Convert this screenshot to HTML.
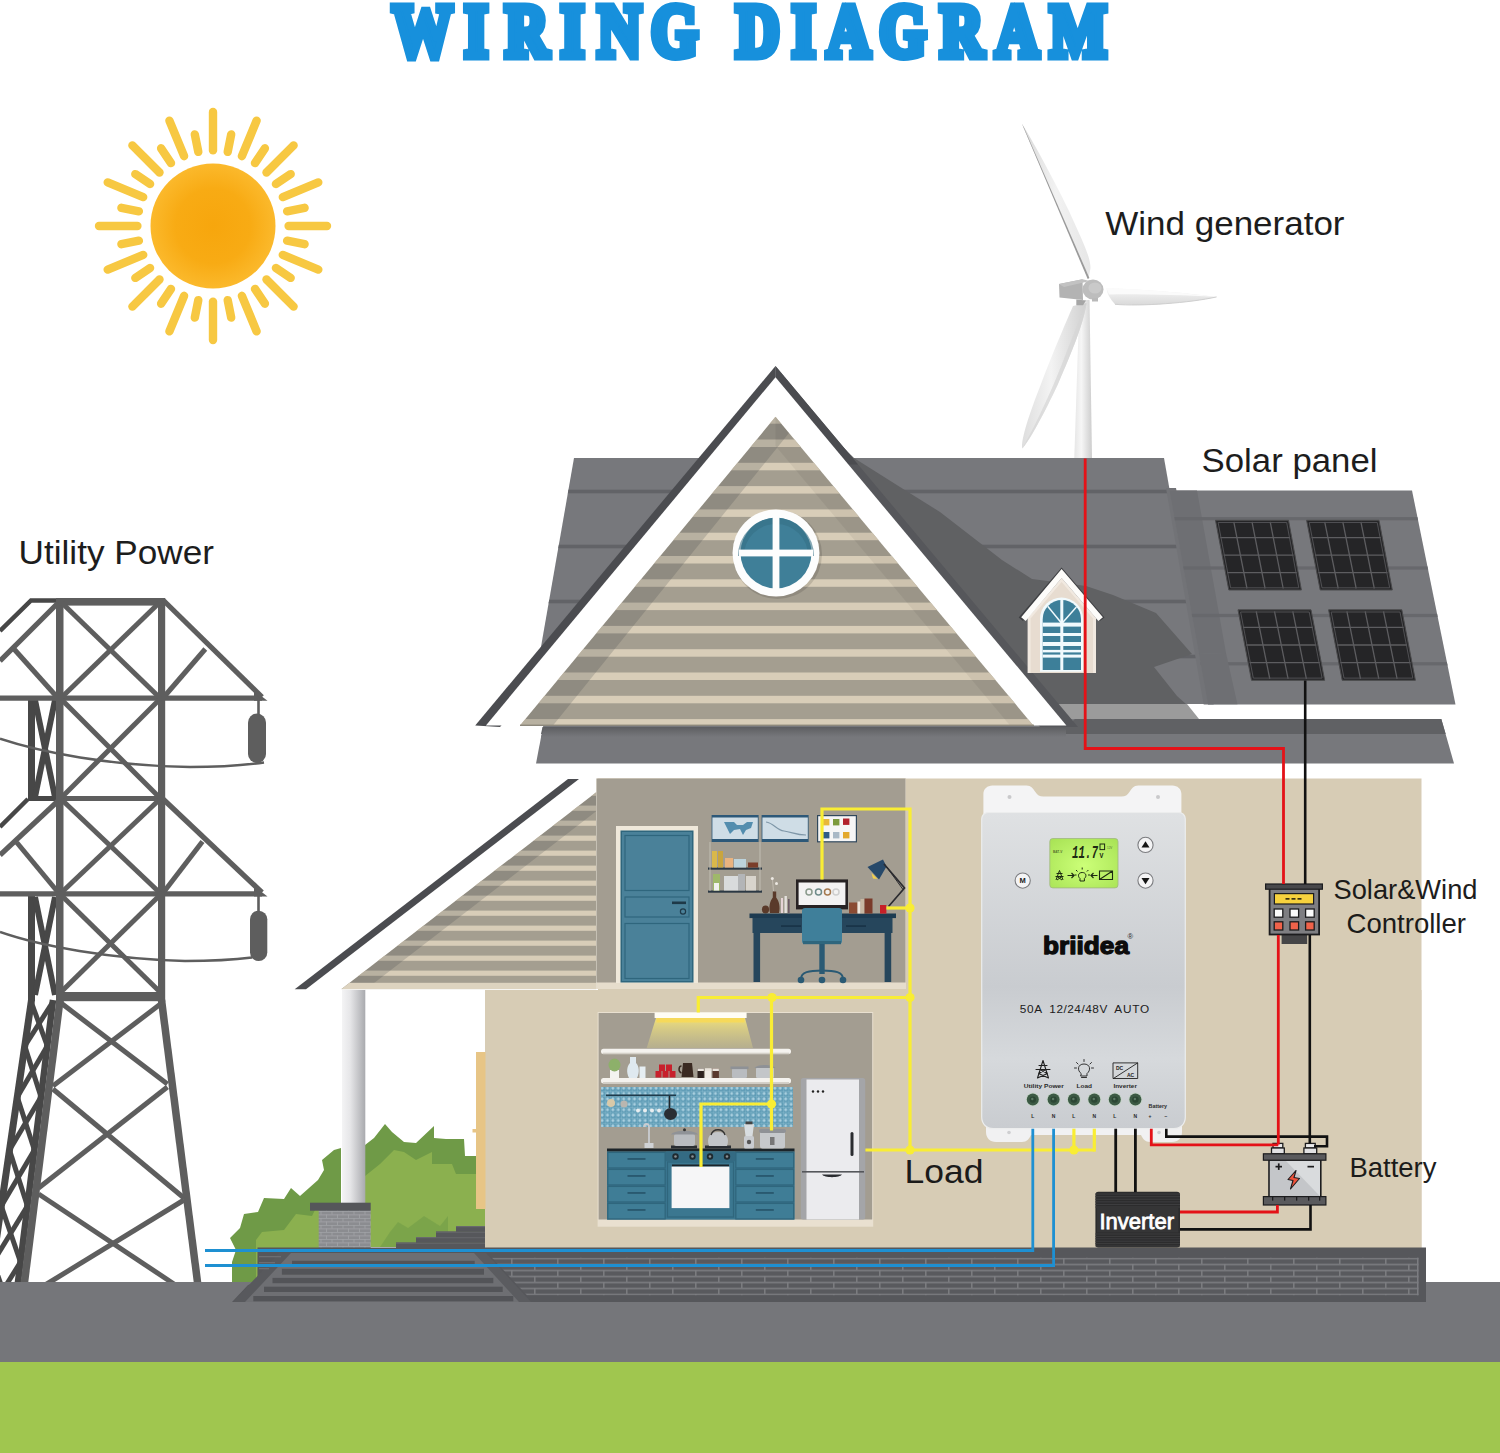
<!DOCTYPE html>
<html lang="en"><head><meta charset="utf-8"><title>Wiring Diagram</title>
<style>
html,body{margin:0;padding:0;background:#fff;}
body{width:1500px;height:1453px;overflow:hidden;}
svg{display:block;font-family:"Liberation Sans",sans-serif;}
</style></head><body>
<svg width="1500" height="1453" viewBox="0 0 1500 1453">
<defs>
<radialGradient id="sunG" cx="50%" cy="50%" r="50%"><stop offset="0" stop-color="#f7a60d"/><stop offset="0.6" stop-color="#f8ab14"/><stop offset="1" stop-color="#fbb92c"/></radialGradient>

</defs>
<rect width="1500" height="1453" fill="#ffffff"/>
<!-- p_sky -->
<g stroke="#f7c842" stroke-width="8.400" stroke-linecap="round">
<line x1="288.6" y1="226" x2="327" y2="226"/>
<line x1="287.1" y1="240.7" x2="304.6" y2="244.2"/>
<line x1="282.8" y1="254.9" x2="318.3" y2="269.6"/>
<line x1="275.9" y1="268" x2="290.7" y2="277.9"/>
<line x1="266.5" y1="279.5" x2="293.6" y2="306.6"/>
<line x1="255" y1="288.9" x2="264.9" y2="303.7"/>
<line x1="241.9" y1="295.8" x2="256.6" y2="331.3"/>
<line x1="227.7" y1="300.1" x2="231.2" y2="317.6"/>
<line x1="213" y1="301.6" x2="213" y2="340"/>
<line x1="198.3" y1="300.1" x2="194.8" y2="317.6"/>
<line x1="184.1" y1="295.8" x2="169.4" y2="331.3"/>
<line x1="171" y1="288.9" x2="161.1" y2="303.7"/>
<line x1="159.5" y1="279.5" x2="132.4" y2="306.6"/>
<line x1="150.1" y1="268" x2="135.3" y2="277.9"/>
<line x1="143.2" y1="254.9" x2="107.7" y2="269.6"/>
<line x1="138.9" y1="240.7" x2="121.4" y2="244.2"/>
<line x1="137.4" y1="226" x2="99" y2="226"/>
<line x1="138.9" y1="211.3" x2="121.4" y2="207.8"/>
<line x1="143.2" y1="197.1" x2="107.7" y2="182.4"/>
<line x1="150.1" y1="184" x2="135.3" y2="174.1"/>
<line x1="159.5" y1="172.5" x2="132.4" y2="145.4"/>
<line x1="171" y1="163.1" x2="161.1" y2="148.3"/>
<line x1="184.1" y1="156.2" x2="169.4" y2="120.7"/>
<line x1="198.3" y1="151.9" x2="194.8" y2="134.4"/>
<line x1="213" y1="150.4" x2="213" y2="112"/>
<line x1="227.7" y1="151.9" x2="231.2" y2="134.4"/>
<line x1="241.9" y1="156.2" x2="256.6" y2="120.7"/>
<line x1="255" y1="163.1" x2="264.9" y2="148.3"/>
<line x1="266.5" y1="172.5" x2="293.6" y2="145.4"/>
<line x1="275.9" y1="184" x2="290.7" y2="174.1"/>
<line x1="282.8" y1="197.1" x2="318.3" y2="182.4"/>
<line x1="287.1" y1="211.3" x2="304.6" y2="207.8"/>
</g>
<circle cx="213" cy="226" r="62.5" fill="url(#sunG)" />
<text transform="scale(0.815,1)" x="481.6 570.1 620 688.2 733.5 799 865 903.5 971.7 1014.8 1079 1153.8 1221.4 1288.4" y="56.100" font-family="'Liberation Serif',serif" font-weight="bold" font-size="73.5" fill="#1790dc" stroke="#1790dc" stroke-width="8" stroke-linejoin="miter" stroke-miterlimit="3" vector-effect="non-scaling-stroke" xml:space="preserve">WIRING DIAGRAM</text>
<!-- p_turbine -->
<linearGradient id="twG" x1="0" y1="0" x2="1" y2="0"><stop offset="0" stop-color="#e6e6e6"/><stop offset="0.4" stop-color="#f6f6f6"/><stop offset="1" stop-color="#cdcdcd"/></linearGradient>
<linearGradient id="b3G" x1="0" y1="0" x2="1" y2="0"><stop offset="0" stop-color="#dedede"/><stop offset="0.45" stop-color="#f3f3f3"/><stop offset="1" stop-color="#d0d0d0"/></linearGradient>
<linearGradient id="b1G" x1="0" y1="0" x2="1" y2="0"><stop offset="0" stop-color="#d9d9d9"/><stop offset="0.5" stop-color="#f2f2f2"/><stop offset="1" stop-color="#e6e6e6"/></linearGradient>
<linearGradient id="b2G" x1="0" y1="0" x2="0" y2="1"><stop offset="0" stop-color="#f7f7f7"/><stop offset="1" stop-color="#d9d9d9"/></linearGradient>
<polygon points="1079.5,300 1089.5,300 1092,458 1074.3,458" fill="url(#twG)" />
<path d="M1086.500 303 C1084 322 1072 352 1058 384 C1045 412 1030 440 1022.300 448.500 C1020.500 440 1030 412 1041 384 C1054 350 1066 322 1073 306 Z" fill="url(#b3G)"/>
<path d="M1086.500 303 C1084 322 1072 352 1058 384 C1045 412 1030 440 1022.300 448.500 C1036 424 1050 394 1062 364 C1072 338 1080 318 1086.500 303Z" fill="#d6d6d6" opacity="0.7"/>
<path d="M1021.800 123.600 C1032 140 1050 172 1069 211 C1081 238 1090.500 256 1090.500 268 L1088.500 279 Z" fill="url(#b1G)"/>
<path d="M1021.800 123.600 L1087.700 279 L1089.400 278 L1024.200 128 Z" fill="#9a9a9a"/>
<path d="M1106.400 288.200 C1130 288.500 1175 291.500 1216.600 296.900 C1190 303 1140 306.500 1115 304.300 C1110 299 1107 293.500 1106.400 288.200 Z" fill="url(#b2G)"/>
<path d="M1106.400 288.200 C1130 288.500 1175 291.500 1216.600 296.900 C1180 295 1140 294 1109 294.500 Z" fill="#fbfbfb"/>
<path d="M1115 304.300 C1140 306.500 1190 303 1216.600 296.900" fill="none" stroke="#cfcfcf" stroke-width="1"/>
<polygon points="1059,284 1082.5,279.3 1083,300 1059.5,297.5" fill="#b3b3b3" />
<polygon points="1059,284 1082.5,279.3 1090,281 1064,287" fill="#c2c2c2" />
<ellipse cx="1093" cy="289.500" rx="10.500" ry="10" fill="#bdbdbd"/>
<ellipse cx="1095" cy="288" rx="6.500" ry="5.500" fill="#c9c9c9"/>
<polygon points="1076.3,299.5 1086,300.5 1083,305.3 1076.3,305.3" fill="#a6a6a6" />
<rect x="1092" y="298" width="6" height="3.5" fill="#b9b9b9" />
<!-- p_pylon -->
<g stroke="#474747" fill="none" stroke-linecap="butt">
<polyline points="57,600.5 31,600.5 0,631" fill="none" stroke="#474747" stroke-width="4.5" />
<rect x="28" y="698" width="7" height="101" fill="#474747" stroke="none"/>
<line x1="35" y1="700" x2="55" y2="797" stroke="#474747" stroke-width="6" />
<line x1="55" y1="700" x2="35" y2="797" stroke="#474747" stroke-width="6" />
<line x1="28" y1="799" x2="0" y2="827" stroke="#474747" stroke-width="4.5" />
<line x1="28" y1="798.5" x2="57" y2="798.5" stroke="#474747" stroke-width="5" />
<rect x="28" y="893" width="7" height="108" fill="#474747" stroke="none"/>
<line x1="35" y1="897" x2="55" y2="995" stroke="#474747" stroke-width="6" />
<line x1="55" y1="897" x2="35" y2="995" stroke="#474747" stroke-width="6" />
<line x1="31.5" y1="1000" x2="-11" y2="1290" stroke="#474747" stroke-width="7" />
<line x1="53" y1="1000" x2="17" y2="1290" stroke="#474747" stroke-width="6.5" />
<line x1="31.2" y1="1002" x2="47.3" y2="1046" stroke="#474747" stroke-width="5" />
<line x1="52.8" y1="1002" x2="24.8" y2="1046" stroke="#474747" stroke-width="5" />
<line x1="24.8" y1="1046" x2="41" y2="1097" stroke="#474747" stroke-width="5" />
<line x1="47.3" y1="1046" x2="17.3" y2="1097" stroke="#474747" stroke-width="5" />
<line x1="17.3" y1="1097" x2="34.4" y2="1150" stroke="#474747" stroke-width="5" />
<line x1="41" y1="1097" x2="9.5" y2="1150" stroke="#474747" stroke-width="5" />
<line x1="9.5" y1="1150" x2="27.4" y2="1206" stroke="#474747" stroke-width="5" />
<line x1="34.4" y1="1150" x2="1.3" y2="1206" stroke="#474747" stroke-width="5" />
<line x1="1.3" y1="1206" x2="20.5" y2="1262" stroke="#474747" stroke-width="5" />
<line x1="27.4" y1="1206" x2="-6.9" y2="1262" stroke="#474747" stroke-width="5" />
<line x1="-6.9" y1="1262" x2="13.3" y2="1320" stroke="#474747" stroke-width="5" />
<line x1="20.5" y1="1262" x2="-15.4" y2="1320" stroke="#474747" stroke-width="5" />
</g>
<g stroke="#5e5e5e" fill="none">
<rect x="56" y="598" width="7.5" height="404" fill="#5e5e5e" stroke="none"/>
<rect x="158" y="598" width="7.2" height="404" fill="#5e5e5e" stroke="none"/>
<rect x="56" y="598" width="109" height="7.6" fill="#5e5e5e" stroke="none"/>
<line x1="0" y1="698.2" x2="262" y2="698.2" stroke="#5e5e5e" stroke-width="5.2" />
<line x1="60" y1="798.5" x2="160" y2="798.5" stroke="#5e5e5e" stroke-width="5.2" />
<line x1="0" y1="893.9" x2="262" y2="893.9" stroke="#5e5e5e" stroke-width="5.2" />
<rect x="60" y="992" width="100" height="9.2" fill="#5e5e5e" stroke="none"/>
<polygon points="254,690.5 267.5,700.8 254,700.8" fill="#5e5e5e" stroke="none"/>
<polygon points="254,886 267.5,896.5 254,896.5" fill="#5e5e5e" stroke="none"/>
<line x1="163" y1="600" x2="262" y2="697" stroke="#5e5e5e" stroke-width="5.2" />
<line x1="163" y1="799" x2="262" y2="892.5" stroke="#5e5e5e" stroke-width="5.2" />
<line x1="163" y1="698" x2="205.3" y2="649" stroke="#5e5e5e" stroke-width="5" />
<line x1="163" y1="893" x2="202.5" y2="841.6" stroke="#5e5e5e" stroke-width="5" />
<line x1="58" y1="603" x2="0" y2="661" stroke="#5e5e5e" stroke-width="5.2" />
<line x1="14" y1="649" x2="57" y2="697" stroke="#5e5e5e" stroke-width="5" />
<line x1="58" y1="801" x2="0" y2="855" stroke="#5e5e5e" stroke-width="5.2" />
<line x1="16.8" y1="842.5" x2="57" y2="891" stroke="#5e5e5e" stroke-width="5" />
<line x1="62" y1="603" x2="159" y2="697" stroke="#5e5e5e" stroke-width="5" />
<line x1="159" y1="603" x2="62" y2="697" stroke="#5e5e5e" stroke-width="5" />
<line x1="62" y1="700" x2="159" y2="797" stroke="#5e5e5e" stroke-width="5" />
<line x1="159" y1="700" x2="62" y2="797" stroke="#5e5e5e" stroke-width="5" />
<line x1="62" y1="800" x2="159" y2="892" stroke="#5e5e5e" stroke-width="5" />
<line x1="159" y1="800" x2="62" y2="892" stroke="#5e5e5e" stroke-width="5" />
<line x1="62" y1="896" x2="159" y2="991" stroke="#5e5e5e" stroke-width="5" />
<line x1="159" y1="896" x2="62" y2="991" stroke="#5e5e5e" stroke-width="5" />
<line x1="60" y1="1000" x2="24" y2="1286" stroke="#5e5e5e" stroke-width="7.5" />
<line x1="161.5" y1="1000" x2="198" y2="1286" stroke="#5e5e5e" stroke-width="7.5" />
<line x1="61" y1="1003" x2="167.4" y2="1084" stroke="#5e5e5e" stroke-width="5" />
<line x1="160.5" y1="1004" x2="52.9" y2="1086" stroke="#5e5e5e" stroke-width="5" />
<line x1="52.9" y1="1089" x2="184" y2="1198" stroke="#5e5e5e" stroke-width="5" />
<line x1="167.4" y1="1087" x2="38.6" y2="1188" stroke="#5e5e5e" stroke-width="5" />
<line x1="38.6" y1="1194" x2="177" y2="1286" stroke="#5e5e5e" stroke-width="5" />
<line x1="184" y1="1200" x2="43.5" y2="1286" stroke="#5e5e5e" stroke-width="5" />
</g>
<line x1="258.5" y1="698" x2="258.5" y2="715" stroke="#5e5e5e" stroke-width="2.6" />
<line x1="258.5" y1="894" x2="258.5" y2="911" stroke="#5e5e5e" stroke-width="2.6" />
<rect x="248" y="713.5" width="18" height="49.5" fill="#5e5e5e" rx="9"/>
<rect x="250" y="910.7" width="17.3" height="50.3" fill="#5e5e5e" rx="8.6"/>
<path d="M0 738.7 C40 752 110 766 190 767 C220 767 245 765 264 762.5" fill="none" stroke="#5e5e5e" stroke-width="2.4"/>
<path d="M0 932 C40 946 110 959 185 961 C215 961 240 959 252 957.5" fill="none" stroke="#5e5e5e" stroke-width="2.4"/>
<!-- p_garden -->
<rect x="0" y="1282" width="1500" height="81" fill="#75767a" />
<rect x="0" y="1362" width="1500" height="91" fill="#a0c64f" />
<polygon points="232,1282 232,1262 236,1250 230,1238 240,1228 244,1214 258,1212 264,1198 284,1199 291,1188 300,1196 318,1180 324,1170 322,1160 334,1150 341,1148 341,1204 370,1204 370,1282" fill="#6f9a47" />
<polygon points="256,1282 256,1240 262,1232 284,1230 296,1214 312,1216 318,1204 370,1204 370,1282" fill="#8bb04f" />
<polygon points="365,1145 374,1138 385,1124 392,1132 404,1142 416,1143 434,1126 434,1138 446,1139 464,1139 465,1156 485,1156 485,1247 365,1247" fill="#6f9a47" />
<polygon points="365,1176 380,1164 394,1150 404,1152 416,1160 432,1152 432,1164 452,1164 456,1174 485,1174 485,1247 365,1247" fill="#8bb04f" />
<polygon points="380,1247 390,1232 398,1222 408,1228 424,1216 440,1226 448,1216 448,1247" fill="#6f9a47" opacity="0.55"/>
<!-- p_house -->
<polygon points="574,458 1164,458 1207.5,704 531,704" fill="#77787c" />
<clipPath id="mr"><polygon points="574,458 1164,458 1207.5,704 531,704"/></clipPath><g clip-path="url(#mr)">
<rect x="530" y="489.7" width="690" height="3.6" fill="#626367" />
<rect x="530" y="544.7" width="690" height="3.6" fill="#626367" />
<rect x="530" y="599.7" width="690" height="3.6" fill="#626367" />
<rect x="530" y="654.7" width="690" height="3.6" fill="#626367" />
</g>
<polygon points="854,458 900,487 940,512 1002,560 1032,579 1086,586 1113,595 1156,613 1192,654 1154,667 1177,696 1186,704 1040,704 775,380" fill="#606163" />
<polygon points="1166,488 1176,488 1213.7,704.4 1203.7,704.4" fill="#727377" />
<polygon points="1169.5,490.4 1412,490.4 1455.5,704.6 1208,704.6" fill="#77787c" />
<polygon points="1169.5,490.4 1197,490.4 1226,653 1192,654 1199,654" fill="#6e6f73" />
<clipPath id="rr"><polygon points="1169.5,490.4 1412,490.4 1455.5,704.6 1208,704.6"/></clipPath><g clip-path="url(#rr)">
<rect x="1160" y="517.1" width="300" height="3.2" fill="#67686c" />
<rect x="1160" y="566.4" width="300" height="3.2" fill="#67686c" />
<rect x="1160" y="613.9" width="300" height="3.2" fill="#67686c" />
<rect x="1160" y="662.2" width="300" height="3.2" fill="#67686c" />
<polygon points="1192,654 1226,653 1237.5,704.6 1208,704.6 1200,690" fill="#6e6f73" />
</g>
<polygon points="1215.5,520.3 1288.5,520.3 1301.4,590 1228.8,590" fill="#252527" stroke="#4a4a4c" stroke-width="1"/>
<path d="M1233.8 521.8L1247 588.5M1220.3 537.7L1290.2 537.7M1252 521.8L1265.1 588.5M1223.7 555.1L1293.5 555.1M1270.2 521.8L1283.2 588.5M1227 572.6L1296.7 572.6" stroke="#5d5d60" stroke-width="1.3" fill="none"/>
<polygon points="1218.1,522.5 1286.7,522.5 1298.8,587.8 1230.6,587.8" fill="none" stroke="#555558" stroke-width="0.9"/>
<polygon points="1306.6,520.3 1379,520.3 1392.3,590 1320.2,590" fill="#252527" stroke="#4a4a4c" stroke-width="1"/>
<path d="M1324.7 521.8L1338.2 588.5M1311.5 537.7L1380.8 537.7M1342.8 521.8L1356.2 588.5M1314.9 555.1L1384.2 555.1M1360.9 521.8L1374.3 588.5M1318.3 572.6L1387.5 572.6" stroke="#5d5d60" stroke-width="1.3" fill="none"/>
<polygon points="1309.2,522.5 1377.2,522.5 1389.7,587.8 1322,587.8" fill="none" stroke="#555558" stroke-width="0.9"/>
<polygon points="1238,609.8 1311,609.8 1324.7,680.3 1251.5,680.3" fill="#252527" stroke="#4a4a4c" stroke-width="1"/>
<path d="M1256.2 611.3L1269.8 678.8M1242.9 627.4L1312.9 627.4M1274.5 611.3L1288.1 678.8M1246.2 645L1316.3 645M1292.8 611.3L1306.4 678.8M1249.6 662.7L1319.8 662.7" stroke="#5d5d60" stroke-width="1.3" fill="none"/>
<polygon points="1240.6,612 1309.2,612 1322.1,678.1 1253.3,678.1" fill="none" stroke="#555558" stroke-width="0.9"/>
<polygon points="1328.6,609.8 1401.8,609.8 1415.4,680.3 1342.2,680.3" fill="#252527" stroke="#4a4a4c" stroke-width="1"/>
<path d="M1346.9 611.3L1360.5 678.8M1333.5 627.4L1403.7 627.4M1365.2 611.3L1378.8 678.8M1336.9 645L1407.1 645M1383.5 611.3L1397.1 678.8M1340.3 662.7L1410.5 662.7" stroke="#5d5d60" stroke-width="1.3" fill="none"/>
<polygon points="1331.2,612 1400,612 1412.8,678.1 1344,678.1" fill="none" stroke="#555558" stroke-width="0.9"/>
<polygon points="1045,704 1187,704 1199,719 1058,719" fill="#9b9b9b" />
<polygon points="544.5,719 1441.3,719 1454,763.6 536,763.6" fill="#77787c" />
<polygon points="542.5,727 1066,727 1075,719 1441.3,719 1445.7,734 541,734" fill="#606164" />
<linearGradient id="eaveG" x1="0" y1="0" x2="0" y2="1"><stop offset="0" stop-color="#5d5e61"/><stop offset="1" stop-color="#77787c"/></linearGradient>
<polygon points="544.5,727 1066,727 1066,737 541,737" fill="url(#eaveG)" />
<polygon points="775.5,366 1078,727 1040,727 775.5,400" fill="#56575b" />
<polygon points="775.5,366 775.5,400 500,727 475.2,725.4" fill="#4b4c50" />
<polygon points="775.5,366 858,464.5 840,464.5 775.5,388" fill="#4b4c50" />
<polygon points="775.5,377.3 1066.4,725.4 485.9,725.4" fill="#ffffff" />
<clipPath id="gb"><polygon points="775.5,416.8 1033.3,725.4 520,725.4"/></clipPath>
<g clip-path="url(#gb)">
<rect x="520" y="416.8" width="513.3" height="308.6" fill="#a49e90" />
<rect x="520" y="392.9" width="513.3" height="7.5" fill="#d8cdb8" />
<rect x="520" y="416.2" width="513.3" height="7.5" fill="#d8cdb8" />
<rect x="520" y="439.5" width="513.3" height="7.5" fill="#d8cdb8" />
<rect x="520" y="462.8" width="513.3" height="7.5" fill="#d8cdb8" />
<rect x="520" y="486.1" width="513.3" height="7.5" fill="#d8cdb8" />
<rect x="520" y="509.4" width="513.3" height="7.5" fill="#d8cdb8" />
<rect x="520" y="532.7" width="513.3" height="7.5" fill="#d8cdb8" />
<rect x="520" y="556" width="513.3" height="7.5" fill="#d8cdb8" />
<rect x="520" y="579.3" width="513.3" height="7.5" fill="#d8cdb8" />
<rect x="520" y="602.6" width="513.3" height="7.5" fill="#d8cdb8" />
<rect x="520" y="625.9" width="513.3" height="7.5" fill="#d8cdb8" />
<rect x="520" y="649.2" width="513.3" height="7.5" fill="#d8cdb8" />
<rect x="520" y="672.5" width="513.3" height="7.5" fill="#d8cdb8" />
<rect x="520" y="695.8" width="513.3" height="7.5" fill="#d8cdb8" />
<rect x="520" y="719.1" width="513.3" height="7.5" fill="#d8cdb8" />
<polygon points="775.5,416.8 789,433 553,725.4 520,725.4" fill="#3a4048" opacity="0.2"/>
<polygon points="775.5,416.8 775.5,446 1010,725.4 1033.3,725.4" fill="#000" opacity="0.05"/>
</g>
<rect x="520" y="724.6" width="514" height="1.4" fill="#8d887c" />
<circle cx="777.5" cy="554.5" r="44.5" fill="#000" opacity="0.12"/>
<circle cx="776" cy="553" r="43.5" fill="#fdfdfd" />
<circle cx="776" cy="553" r="35.5" fill="#3f7f98" />
<path d="M741 553a35 35 0 0 1 70 0" fill="none" stroke="#366f86" stroke-width="6" opacity="0.6" transform="translate(0,3)"/>
<rect x="772.6" y="516" width="6.8" height="74" fill="#fdfdfd" />
<rect x="739" y="549.6" width="74" height="6.8" fill="#fdfdfd" />
<polygon points="1061.6,567.5 1104.5,617.5 1100,621 1061.6,576 1023,621 1018.7,617.5" fill="#3f4043" />
<polygon points="1061.6,578 1096,618 1096,673 1027.6,673 1027.6,618" fill="#f1e9e0" />
<polygon points="1061.6,582 1093,618.5 1093,673 1030.6,673 1030.6,618.5" fill="#e7dcd0" />
<polygon points="1061.6,569 1102.9,617.2 1098.4,621 1061.6,578 1025.7,621 1021.2,617.2" fill="#fdfcfa" />
<path d="M1040 671.800V619a21.500 21.500 0 0 1 43 0V671.800Z" fill="#f1fafd"/>
<clipPath id="dw"><path d="M1042.700 670V619.200a19.150 19.150 0 0 1 38.300 0V670Z"/></clipPath>
<g clip-path="url(#dw)">
<rect x="1040" y="598" width="44" height="74" fill="#3d7f99" />
<rect x="1060.3" y="598" width="3" height="74" fill="#f1fafd" />
<rect x="1040" y="622.6" width="44" height="4" fill="#f1fafd" />
<rect x="1040" y="633" width="44" height="3" fill="#f1fafd" />
<rect x="1040" y="642" width="44" height="4" fill="#f1fafd" />
<rect x="1040" y="649.9" width="44" height="2.5" fill="#f1fafd" />
<rect x="1040" y="654.6" width="44" height="3" fill="#f1fafd" />
<line x1="1061.8" y1="623.5" x2="1047.5" y2="606" stroke="#f1fafd" stroke-width="1.5" />
<line x1="1061.8" y1="623.5" x2="1077.3" y2="606" stroke="#f1fafd" stroke-width="1.5" />
</g>
<rect x="485" y="990" width="936.5" height="258" fill="#d7ccb5" />
<rect x="598" y="778.5" width="823.5" height="469.5" fill="#d7ccb5" />
<polygon points="568,779 579,779 306,989.3 294.7,989.3" fill="#4b4c50" />
<clipPath id="ps"><polygon points="596.5,792 596.5,989.3 341.2,989.3"/></clipPath>
<g clip-path="url(#ps)">
<rect x="341.2" y="792" width="255.3" height="197.3" fill="#a49e90" />
<rect x="341.2" y="775.6" width="255.3" height="5.2" fill="#d8cdb8" />
<rect x="341.2" y="790.6" width="255.3" height="5.2" fill="#d8cdb8" />
<rect x="341.2" y="805.6" width="255.3" height="5.2" fill="#d8cdb8" />
<rect x="341.2" y="820.6" width="255.3" height="5.2" fill="#d8cdb8" />
<rect x="341.2" y="835.6" width="255.3" height="5.2" fill="#d8cdb8" />
<rect x="341.2" y="850.6" width="255.3" height="5.2" fill="#d8cdb8" />
<rect x="341.2" y="865.6" width="255.3" height="5.2" fill="#d8cdb8" />
<rect x="341.2" y="880.6" width="255.3" height="5.2" fill="#d8cdb8" />
<rect x="341.2" y="895.6" width="255.3" height="5.2" fill="#d8cdb8" />
<rect x="341.2" y="910.6" width="255.3" height="5.2" fill="#d8cdb8" />
<rect x="341.2" y="925.6" width="255.3" height="5.2" fill="#d8cdb8" />
<rect x="341.2" y="940.6" width="255.3" height="5.2" fill="#d8cdb8" />
<rect x="341.2" y="955.6" width="255.3" height="5.2" fill="#d8cdb8" />
<rect x="341.2" y="970.6" width="255.3" height="5.2" fill="#d8cdb8" />
<polygon points="596.5,792 596.5,811 366,989.3 341.2,989.3" fill="#3a4048" opacity="0.2"/>
<rect x="341" y="982.8" width="256" height="6.5" fill="#ddd3bf" />
</g>
<linearGradient id="colG" x1="0" y1="0" x2="1" y2="0"><stop offset="0" stop-color="#f4f4f5"/><stop offset="0.35" stop-color="#e6e6e8"/><stop offset="1" stop-color="#a9aaae"/></linearGradient>
<rect x="342" y="990" width="23.3" height="213" fill="url(#colG)" />
<!-- p_rooms -->
<rect x="596.5" y="778.5" width="309.5" height="210.5" fill="#e6ddcc" />
<rect x="596.5" y="778.5" width="309" height="204" fill="#a39d91" />
<rect x="616" y="826" width="82" height="157" fill="#efe8da" />
<rect x="620.5" y="830.5" width="73" height="152" fill="#2f667d" />
<rect x="622" y="832" width="70" height="149" fill="#4a8199" />
<rect x="625" y="835.5" width="64" height="55" fill="none" stroke="#2f667d" stroke-width="1.2"/>
<rect x="625" y="897" width="64" height="20" fill="none" stroke="#2f667d" stroke-width="1.2"/>
<rect x="625" y="923.5" width="64" height="55" fill="none" stroke="#2f667d" stroke-width="1.2"/>
<rect x="672" y="901.5" width="14" height="2.6" fill="#1e3948" />
<circle cx="683" cy="911.5" r="2.6" fill="none" stroke="#1e3948" stroke-width="1.2"/>
<rect x="711.6" y="815" width="47" height="27" fill="#2d5878" />
<rect x="712.4" y="817.5" width="45.4" height="21.5" fill="#cfdde6" />
<rect x="761.6" y="815" width="47" height="27" fill="#2d5878" />
<rect x="762.4" y="817.5" width="45.4" height="21.5" fill="#cfdde6" />
<path d="M724 822h10l3 3h6l4-3h6l-2 6-5 2-3 5-3-6-6 1-4 4-3-6z" fill="#3d7fa3" opacity="0.85"/>
<path d="M766 822c8 1 10 8 18 9s12 4 22 4" fill="none" stroke="#7f97a8" stroke-width="1.2"/>
<rect x="817" y="815" width="40" height="27.4" fill="#30485c" />
<rect x="818.2" y="816.2" width="37.6" height="25" fill="#f6f6f6" />
<rect x="823" y="819" width="6.4" height="6.4" fill="#e8b83a" />
<rect x="833" y="819" width="6.4" height="6.4" fill="#7c9a3c" />
<rect x="843" y="818.5" width="6.4" height="6.4" fill="#b3232c" />
<rect x="823" y="832" width="6.4" height="6.4" fill="#2f5d86" />
<rect x="833" y="832" width="6.4" height="6.4" fill="#a9b9c6" />
<rect x="843" y="832" width="6.4" height="6.4" fill="#e3a92e" />
<rect x="708" y="867.5" width="54" height="2.2" fill="#2b3844" />
<rect x="708" y="890.5" width="54" height="2.2" fill="#2b3844" />
<line x1="710" y1="842" x2="710" y2="891" stroke="#c9c6bd" stroke-width="0.8" />
<line x1="760" y1="842" x2="760" y2="891" stroke="#c9c6bd" stroke-width="0.8" />
<rect x="712" y="851" width="5" height="16.5" fill="#d9b84a" />
<rect x="718" y="851" width="5" height="16.5" fill="#c9a53e" />
<rect x="725" y="858" width="8" height="9.5" fill="#e9b37f" />
<rect x="734" y="859" width="12" height="8.5" fill="#bcd3dc" />
<rect x="748" y="862.5" width="10" height="5" fill="#7a3d2a" />
<rect x="713" y="874" width="7" height="16.5" fill="#9fb86a" />
<rect x="714" y="883" width="5" height="7.5" fill="#f1f1ee" />
<rect x="724" y="876" width="14" height="14.5" fill="#d9dbdc" />
<rect x="738" y="874" width="7" height="16.5" fill="#b3b5b7" />
<rect x="746" y="876" width="10" height="14.5" fill="#d8d4cc" />
<path d="M770 913c-1.5-6 0-12 2.8-15.5v-6h3.4v6c2.8 3.500 4.3 9.500 2.8 15.500z" fill="#5a3a2a"/>
<ellipse cx="765.500" cy="909.500" rx="3.600" ry="4" fill="#5a3a2a"/>
<rect x="781" y="898" width="2" height="15" fill="#e6d3d6" />
<rect x="784.5" y="896" width="2.4" height="17" fill="#e4e0dc" />
<rect x="788" y="899" width="1.6" height="14" fill="#6d5a66" />
<line x1="773.5" y1="891" x2="772.5" y2="880" stroke="#c8c2b8" stroke-width="0.8" />
<circle cx="772.3" cy="878.5" r="1.5" fill="#ece8e2" />
<circle cx="776.5" cy="883.5" r="1.5" fill="#ece8e2" />
<rect x="749.5" y="913.5" width="146.5" height="4.6" fill="#1d3b51" />
<rect x="752.5" y="918" width="140" height="15" fill="#26465c" />
<rect x="753.5" y="933" width="6.6" height="49" fill="#26465c" />
<rect x="884.6" y="933" width="6.6" height="49" fill="#26465c" />
<rect x="781" y="925.3" width="20" height="1.5" fill="#173145" />
<rect x="846" y="925.3" width="20" height="1.5" fill="#173145" />
<rect x="849" y="902.5" width="8.5" height="11" fill="#8a4b33" />
<rect x="857.5" y="901.5" width="3" height="12" fill="#efe6dc" />
<rect x="860.5" y="899" width="4" height="14.5" fill="#c7b7a3" />
<rect x="864.5" y="898.5" width="8" height="15" fill="#7a3a2a" />
<rect x="880" y="905" width="6.4" height="8.6" fill="#c62028" />
<rect x="796" y="879.4" width="52" height="30" fill="#272223" />
<rect x="798.6" y="882.5" width="46.8" height="22.5" fill="#f3f2f2" />
<circle cx="809" cy="892" r="3" fill="none" stroke="#8a9a8c" stroke-width="1.500"/>
<circle cx="818.5" cy="892" r="3" fill="none" stroke="#6f8b8a" stroke-width="1.500"/>
<circle cx="827.5" cy="892" r="3" fill="none" stroke="#a6794f" stroke-width="1.500"/>
<circle cx="836" cy="892" r="3" fill="none" stroke="#cfcfcf" stroke-width="1.500"/>
<rect x="810" y="909" width="24" height="3.5" fill="#272223" />
<rect x="802" y="908" width="40" height="36" fill="#3f7f9a" rx="3"/>
<rect x="803" y="941" width="38" height="3.2" fill="#2f667d" />
<rect x="819.3" y="944" width="5.4" height="30" fill="#2a5a74" />
<path d="M801 979c0-7 8-8.500 21-8.500s21 1.500 21 8.500" fill="none" stroke="#2a5a74" stroke-width="2"/>
<circle cx="801" cy="980" r="3.3" fill="#2a5a74" />
<circle cx="822" cy="980" r="3.3" fill="#2a5a74" />
<circle cx="843" cy="980" r="3.3" fill="#2a5a74" />
<polygon points="867.5,867 883,859.5 886.5,866.5 879,879.5" fill="#27496a" />
<polygon points="871.5,873 877.5,879 873,878.5" fill="#f3d34a" />
<polyline points="884,864 904.5,888 888.5,906.5" fill="none" stroke="#2b2b2f" stroke-width="1.7" />
<polyline points="886,866 903,889.5" fill="none" stroke="#2b2b2f" stroke-width="1" />
<rect x="597.6" y="1012" width="275.6" height="214.7" fill="#e9e0d0" />
<rect x="598.6" y="1013" width="273.6" height="206.5" fill="#a39d91" />
<linearGradient id="glow" x1="0" y1="0" x2="0" y2="1"><stop offset="0" stop-color="#f2e27a" stop-opacity="0.95"/><stop offset="1" stop-color="#d9cf8a" stop-opacity="0.35"/></linearGradient>
<polygon points="656,1018 745,1018 753,1048 646.7,1048" fill="url(#glow)" />
<rect x="654.6" y="1012.5" width="92" height="5.5" fill="#fffdf4" />
<rect x="656.5" y="1018" width="88" height="4.5" fill="#f6d95a" />
<rect x="601" y="1048.7" width="190" height="5.4" fill="#f4f2ee" rx="2.500"/>
<rect x="603" y="1052.7" width="186" height="1.6" fill="#d4d0c8" />
<rect x="601" y="1078" width="190" height="5.4" fill="#f4f2ee" rx="2.500"/>
<rect x="603" y="1082" width="186" height="1.6" fill="#d4d0c8" />
<rect x="610" y="1070" width="9" height="8" fill="#f3f3f0" />
<ellipse cx="614.500" cy="1065" rx="6" ry="6.500" fill="#8db06a"/>
<path d="M629 1078c-3-6-2-12 1-15v-6h6v6c3 3 4 9 1 15z" fill="#dfe9ef"/>
<rect x="639.5" y="1066.5" width="6" height="11.5" fill="#e6eef2" />
<rect x="655.5" y="1071" width="6" height="6.5" fill="#c8202c" />
<rect x="662.5" y="1071" width="6" height="6.5" fill="#c8202c" />
<rect x="669.5" y="1071" width="6" height="6.5" fill="#c8202c" />
<rect x="659" y="1064.5" width="6" height="6.5" fill="#c8202c" />
<rect x="666" y="1064.5" width="6" height="6.5" fill="#c8202c" />
<path d="M683 1063h9l1.500 14h-12z" fill="#3a2a22"/>
<path d="M681.500 1066c-3 0-3.500 6 0 7" fill="none" stroke="#3a2a22" stroke-width="1.500"/>
<rect x="697.5" y="1068.5" width="6.4" height="9.5" fill="#2e2320" />
<rect x="697.5" y="1068.5" width="6.4" height="2.5" fill="#e9e4dc" />
<rect x="705" y="1068.5" width="6.4" height="9.5" fill="#f0ece6" />
<rect x="705" y="1068.5" width="6.4" height="2.5" fill="#e9e4dc" />
<rect x="712.5" y="1068.5" width="6.4" height="9.5" fill="#5a3a2e" />
<rect x="712.5" y="1068.5" width="6.4" height="2.5" fill="#e9e4dc" />
<rect x="732" y="1068" width="15" height="10" fill="#b9bcc0" rx="1.500"/>
<rect x="730.5" y="1066.5" width="18" height="2.6" fill="#8e9196" />
<rect x="756" y="1067.5" width="18" height="10.5" fill="#c3c6c9" rx="1.500"/>
<path d="M754.500 1068c3-4 18-4 21 0z" fill="#8e9196"/>
<pattern id="tile" width="5.400" height="5.400" patternUnits="userSpaceOnUse"><rect width="5.400" height="5.400" fill="#5f9cb6"/><circle cx="2.700" cy="2.700" r="1.500" fill="#a9cfdf"/><path d="M0 0h5.400M0 0v5.400" stroke="#8fc0d3" stroke-width="0.700"/></pattern>
<rect x="601" y="1087" width="192" height="40" fill="url(#tile)" />
<rect x="606" y="1094.5" width="70" height="1.6" fill="#1f3a4b" />
<circle cx="611" cy="1103" r="4" fill="#d9c9a8" />
<circle cx="624" cy="1104" r="3.6" fill="#b9b6b0" />
<circle cx="638" cy="1110.5" r="2" fill="#e9eef0" />
<circle cx="645" cy="1110.5" r="2" fill="#e9eef0" />
<circle cx="652" cy="1110.5" r="2" fill="#e9eef0" />
<circle cx="659" cy="1110.5" r="2" fill="#e9eef0" />
<line x1="669.5" y1="1096" x2="669.5" y2="1108" stroke="#22262a" stroke-width="1.6" />
<ellipse cx="670.500" cy="1114" rx="6.500" ry="6" fill="#2a2e33"/>
<rect x="607" y="1148.5" width="187.5" height="3.2" fill="#1c2429" />
<rect x="607" y="1151.6" width="187.5" height="67.8" fill="#3f7d96" />
<rect x="607.8" y="1152.4" width="57.4" height="15.6" fill="none" stroke="#2f667d" stroke-width="1.300"/>
<rect x="627.5" y="1158.1" width="18" height="1.7" fill="#27566c" />
<rect x="607.8" y="1169.4" width="57.4" height="15.6" fill="none" stroke="#2f667d" stroke-width="1.300"/>
<rect x="627.5" y="1175.1" width="18" height="1.7" fill="#27566c" />
<rect x="607.8" y="1186.4" width="57.4" height="15.6" fill="none" stroke="#2f667d" stroke-width="1.300"/>
<rect x="627.5" y="1192.1" width="18" height="1.7" fill="#27566c" />
<rect x="607.8" y="1203.4" width="57.4" height="15.6" fill="none" stroke="#2f667d" stroke-width="1.300"/>
<rect x="627.5" y="1209.1" width="18" height="1.7" fill="#27566c" />
<rect x="735.8" y="1152.4" width="57.9" height="15.6" fill="none" stroke="#2f667d" stroke-width="1.300"/>
<rect x="755.8" y="1158.1" width="18" height="1.7" fill="#27566c" />
<rect x="735.8" y="1169.4" width="57.9" height="15.6" fill="none" stroke="#2f667d" stroke-width="1.300"/>
<rect x="755.8" y="1175.1" width="18" height="1.7" fill="#27566c" />
<rect x="735.8" y="1186.4" width="57.9" height="15.6" fill="none" stroke="#2f667d" stroke-width="1.300"/>
<rect x="755.8" y="1192.1" width="18" height="1.7" fill="#27566c" />
<rect x="735.8" y="1203.4" width="57.9" height="15.6" fill="none" stroke="#2f667d" stroke-width="1.300"/>
<rect x="755.8" y="1209.1" width="18" height="1.7" fill="#27566c" />
<rect x="666" y="1151.6" width="69" height="67.8" fill="#3b7790" />
<rect x="666" y="1151.6" width="69" height="9.6" fill="#346b83" />
<circle cx="675.5" cy="1156.5" r="3.2" fill="#1e2a30" />
<circle cx="675.5" cy="1156.5" r="1.3" fill="#8a8f92" />
<circle cx="692.5" cy="1156.5" r="3.2" fill="#1e2a30" />
<circle cx="692.5" cy="1156.5" r="1.3" fill="#8a8f92" />
<circle cx="710" cy="1156.5" r="3.2" fill="#1e2a30" />
<circle cx="710" cy="1156.5" r="1.3" fill="#8a8f92" />
<circle cx="727" cy="1156.5" r="3.2" fill="#1e2a30" />
<circle cx="727" cy="1156.5" r="1.3" fill="#8a8f92" />
<rect x="667.5" y="1162" width="66" height="55" fill="none" stroke="#2f667d" stroke-width="1.200"/>
<rect x="672" y="1164.5" width="57" height="2" fill="#1c2429" />
<rect x="671.6" y="1166.6" width="57.8" height="41.5" fill="#f6f6f7" />
<rect x="671" y="1145.5" width="26" height="3" fill="#2a2e33" />
<rect x="705" y="1145.5" width="26" height="3" fill="#2a2e33" />
<rect x="674" y="1134" width="21" height="12" fill="#b9bcc0" rx="2"/>
<path d="M671 1134.500c4-5 23-5 27 0z" fill="#8f9297"/>
<circle cx="684.5" cy="1129.8" r="1.5" fill="#333" />
<path d="M709 1146c-3-8 1-14 9-14s12 6 9 14z" fill="#c3c6c9"/>
<path d="M711 1135c2-7 12-7 14 0" fill="none" stroke="#333" stroke-width="1.300"/>
<path d="M649 1147v-20c0-4 -5-4 -5 0" fill="none" stroke="#c9ccd0" stroke-width="1.800"/>
<rect x="644.5" y="1143" width="9" height="5" fill="#cfd2d5" />
<polygon points="744,1124 754,1124 752.5,1136 745.5,1136" fill="#d8dde0" />
<rect x="744" y="1136" width="10" height="12.5" fill="#c9ccd0" rx="1.500"/>
<circle cx="749" cy="1142" r="2.2" fill="#555" />
<rect x="745.5" y="1121.5" width="7" height="2.8" fill="#444" />
<rect x="760" y="1130.5" width="25" height="18" fill="#c6c9cc" rx="2.500"/>
<rect x="759" y="1129" width="27" height="4" fill="#8f9297" rx="2"/>
<rect x="770" y="1137" width="4.5" height="8" fill="#777" />
<rect x="800.8" y="1078" width="64.4" height="141.5" fill="#a4a5a8" rx="2.500"/>
<rect x="806.5" y="1079.5" width="52.5" height="140" fill="#ebebee" />
<rect x="802" y="1171" width="62" height="1.6" fill="#55575b" />
<circle cx="813" cy="1091.5" r="1.2" fill="#222" />
<circle cx="818" cy="1091.5" r="1.2" fill="#222" />
<circle cx="823" cy="1091.5" r="1.2" fill="#222" />
<rect x="850.5" y="1132" width="3" height="24" fill="#2a2c30" rx="1.500"/>
<path d="M822 1174.500h20c-2 3.500-18 3.500-20 0z" fill="#2a2c30"/>
<!-- p_device -->
<rect x="476" y="1052" width="9.5" height="157" fill="#e7c586" />
<rect x="472.5" y="1129" width="4" height="3.5" fill="#e7c586" />
<pattern id="brk" width="11" height="7" patternUnits="userSpaceOnUse"><rect width="11" height="7" fill="#8b8c90"/><path d="M0 0.400h11M0 3.900h11M2 0v3.500M7.500 3.500v3.500" stroke="#a2a3a7" stroke-width="0.800"/></pattern>
<rect x="318.7" y="1210" width="52" height="38" fill="url(#brk)" />
<rect x="310" y="1202.7" width="60.7" height="8" fill="#55565a" />
<polygon points="257.5,1247.5 1426,1247.5 1426,1302 232,1302 248,1285 257.5,1282" fill="#56575b" />
<polygon points="285,1253 478,1253 523,1302 239,1302" fill="#6e6f73" />
<rect x="292" y="1260.8" width="182.7" height="3.7" fill="#535458" />
<rect x="281.9" y="1268.8" width="202.1" height="5.9" fill="#535458" />
<rect x="272.5" y="1277.9" width="220.8" height="5.3" fill="#535458" />
<rect x="264" y="1286.7" width="238.7" height="5.3" fill="#535458" />
<rect x="253.3" y="1296" width="260" height="5.3" fill="#535458" />
<polygon points="279,1253 291,1253 245,1302 233,1302" fill="#58595d" />
<rect x="259" y="1256" width="22" height="1.3" fill="#6d6e72" />
<rect x="259" y="1262" width="16" height="1.3" fill="#6d6e72" />
<rect x="259" y="1268" width="10" height="1.3" fill="#6d6e72" />
<polygon points="474,1253 486,1253 531,1302 519,1302" fill="#5b5c60" />
<rect x="396" y="1242.5" width="89" height="5.8" fill="#56575b" />
<rect x="396" y="1242.5" width="89" height="1.2" fill="#68696d" />
<rect x="416" y="1237" width="69" height="5.8" fill="#56575b" />
<rect x="416" y="1237" width="69" height="1.2" fill="#68696d" />
<rect x="436" y="1231.5" width="49" height="5.8" fill="#56575b" />
<rect x="436" y="1231.5" width="49" height="1.2" fill="#68696d" />
<rect x="456" y="1226" width="29" height="5.8" fill="#56575b" />
<rect x="456" y="1226" width="29" height="1.2" fill="#68696d" />
<pattern id="brk2" width="46" height="12" patternUnits="userSpaceOnUse" patternTransform="translate(511,1257.700)"><rect width="46" height="12" fill="#595a5e"/><path d="M0 0.800h46M0 6.800h46" stroke="#7c7d81" stroke-width="1.500"/><path d="M0.800 0.800v6M23.800 6.800v6" stroke="#7c7d81" stroke-width="1.500"/></pattern>
<polygon points="492,1257.7 1418.5,1257.7 1418.5,1295.3 527,1295.3" fill="url(#brk2)" />
<rect x="1417" y="1257.7" width="1.5" height="37.6" fill="#7c7d81" />
<linearGradient id="dvG" x1="0" y1="0" x2="0" y2="1"><stop offset="0" stop-color="#dfe1e3"/><stop offset="0.550" stop-color="#c9ccd0"/><stop offset="0.780" stop-color="#d6d9dc"/><stop offset="1" stop-color="#c9ccd0"/></linearGradient>
<path d="M983.400 816v-22c0-5 4-8.500 9-8.500h34c5 0 6.500 3 9 6.500 2 3 4 4.500 8 4.500h78c4 0 6-1.500 8-4.500 2.500-3.500 4-6.500 9-6.500h34c5 0 9 3.500 9 8.500v22z" fill="#f4f4f5"/>
<circle cx="1009.5" cy="797" r="2" fill="#c9c9cb" />
<circle cx="1158" cy="797" r="2" fill="#c9c9cb" />
<path d="M986 1120h196v12c0 6-4 10-10 10h-22c-5 0-7-3-9-7h-110c-2 4-4 7-9 7h-26c-6 0-10-4-10-10z" fill="#f1f1f2"/>
<circle cx="1009" cy="1132.5" r="1.8" fill="#cfcfd1" />
<circle cx="1159" cy="1132.5" r="1.8" fill="#cfcfd1" />
<path d="M981.700 819c0-4 3-6.500 6.500-6.500h190.600c3.500 0 6.500 2.500 6.500 6.500v298c0 7-5 11.700-11.500 11.700h-180.600c-6.500 0-11.500-4.700-11.500-11.700z" fill="url(#dvG)" stroke="#eceded" stroke-width="1.200"/>
<radialGradient id="lcdG" cx="50%" cy="55%" r="70%"><stop offset="0" stop-color="#ccff78"/><stop offset="1" stop-color="#a9e356"/></radialGradient>
<rect x="1049.8" y="838.5" width="68.2" height="49.4" fill="url(#lcdG)" rx="3" stroke="#9fb880" stroke-width="0.800"/>
<g font-family="'Liberation Mono',monospace" fill="#1d2a12">
<text x="1072" y="857.500" font-size="18" font-style="italic" textLength="26" lengthAdjust="spacingAndGlyphs" font-weight="bold">11.7</text>
<text x="1099.500" y="858" font-size="6.500" font-weight="bold">V</text>
</g>
<rect x="1100" y="844" width="4.6" height="5.6" fill="none" stroke="#1d2a12" stroke-width="1"/>
<text x="1053" y="853" font-size="3.200" fill="#56702f" font-weight="bold">BAT-V</text>
<text x="1107" y="849" font-size="3" fill="#56702f">12V</text>
<g stroke="#1d2a12" stroke-width="1" fill="none">
<path d="M1059.500 870.500l-3.500 9.500M1059.500 870.500l3.500 9.500M1056.500 873.500h6M1055.500 876.500h8M1057 876.500l5 3.500M1062 876.500l-5 3.500"/>
<path d="M1067.500 875.500h6.500M1071.500 873l2.500 2.500-2.500 2.500" stroke-width="1.200"/>
<path d="M1080 878.500c-2.500-2-2-6 2.200-6s4.700 4 2.200 6v2.500h-4.400zM1082.200 869.500v-2M1077.500 871.500l-1.500-1.500M1086.900 871.500l1.500-1.500M1076.500 875h-2M1088 875h2"/>
<path d="M1097.500 875.500h-6.500M1093.500 873l-2.500 2.500 2.500 2.500" stroke-width="1.200"/>
<path d="M1099.500 871h13v8.500h-13zM1099.500 879.500l13-8.500" stroke-width="1.100"/>
</g>
<circle cx="1022.7" cy="880.6" r="7.6" fill="#f4f4f5" stroke="#7c7d80" stroke-width="1.100"/>
<text x="1022.7" y="883.3" font-size="7.500" font-weight="bold" text-anchor="middle" fill="#222">M</text>
<circle cx="1145.5" cy="844.9" r="7.6" fill="#f4f4f5" stroke="#7c7d80" stroke-width="1.100"/>
<polygon points="1141.5,847.5 1149.5,847.5 1145.5,841.3" fill="#161616" />
<circle cx="1145.5" cy="880.6" r="7.6" fill="#f4f4f5" stroke="#7c7d80" stroke-width="1.100"/>
<polygon points="1141.5,878 1149.5,878 1145.5,884.2" fill="#161616" />
<text x="1043" y="953.700" font-size="24.500" font-weight="bold" fill="#0c0c0c" stroke="#0c0c0c" stroke-width="1.300" stroke-linejoin="round" textLength="86" lengthAdjust="spacingAndGlyphs">briidea</text>
<text x="1130.300" y="938.800" font-size="7.600" text-anchor="middle" fill="#222">®</text>
<text font-size="11.800" fill="#1c1c1c" y="1013.200"><tspan x="1019.800" textLength="21.700" lengthAdjust="spacing">50A</tspan> <tspan x="1049.300" textLength="58" lengthAdjust="spacing">12/24/48V</tspan> <tspan x="1114.300" textLength="35" lengthAdjust="spacing">AUTO</tspan></text>
<g stroke="#1f1f1f" stroke-width="1.100" fill="none" stroke-linecap="round">
<path d="M1043 1060.500l-5.500 17.500M1043 1060.500l5.500 17.500M1039 1065.500h8M1036 1069.500h14M1038.600 1073.500l9.900 4.500M1047.400 1073.500l-9.900 4.500M1040 1069.500l7.400 4M1046 1069.500l-7.400 4" />
<path d="M1081 1073.500c-4-3-3.500-9.500 3-9.500s7 6.500 3 9.500v2.500h-6zM1081.500 1077.500h5M1084 1061.500v-2M1078 1064l-1.500-1.500M1090 1064l1.500-1.500M1076.500 1068h-2M1091.500 1068h2" stroke-width="0.900"/>
<path d="M1113.400 1062.900h24.300v15.600h-24.300zM1113.400 1078.500l24.300-15.600" stroke-width="0.900"/>
</g>
<text x="1116" y="1069.500" font-size="5" fill="#222" font-weight="bold">DC</text>
<text x="1127" y="1077" font-size="5" fill="#222" font-weight="bold">AC</text>
<g font-size="5.200" font-weight="bold" fill="#2a2a2a">
<text x="1023.800" y="1087.500" textLength="40" lengthAdjust="spacingAndGlyphs" xml:space="preserve">Utility Power</text>
<text x="1076.500" y="1087.500" textLength="15.500" lengthAdjust="spacingAndGlyphs">Load</text>
<text x="1113.400" y="1087.500" textLength="23.500" lengthAdjust="spacingAndGlyphs">Inverter</text>
<text x="1148.600" y="1107.500" font-size="4.600" textLength="18.500" lengthAdjust="spacingAndGlyphs">Battery</text>
<text x="1032.8" y="1117.500" text-anchor="middle" font-size="5">L</text>
<text x="1053.6" y="1117.500" text-anchor="middle" font-size="5">N</text>
<text x="1073.9" y="1117.500" text-anchor="middle" font-size="5">L</text>
<text x="1094.3" y="1117.500" text-anchor="middle" font-size="5">N</text>
<text x="1114.8" y="1117.500" text-anchor="middle" font-size="5">L</text>
<text x="1135.4" y="1117.500" text-anchor="middle" font-size="5">N</text>
<text x="1150" y="1118" text-anchor="middle" font-size="5">+</text>
<text x="1166" y="1117.500" text-anchor="middle" font-size="5">−</text>
</g>
<circle cx="1032.8" cy="1099.6" r="7" fill="#c5d3c8" />
<circle cx="1032.8" cy="1099.6" r="6" fill="#3c5a44" />
<circle cx="1032.8" cy="1099.6" r="3.2" fill="#2c4734" />
<circle cx="1032.3" cy="1099" r="1.2" fill="#5c7a64" />
<circle cx="1053.6" cy="1099.6" r="7" fill="#c5d3c8" />
<circle cx="1053.6" cy="1099.6" r="6" fill="#3c5a44" />
<circle cx="1053.6" cy="1099.6" r="3.2" fill="#2c4734" />
<circle cx="1053.1" cy="1099" r="1.2" fill="#5c7a64" />
<circle cx="1073.9" cy="1099.6" r="7" fill="#c5d3c8" />
<circle cx="1073.9" cy="1099.6" r="6" fill="#3c5a44" />
<circle cx="1073.9" cy="1099.6" r="3.2" fill="#2c4734" />
<circle cx="1073.4" cy="1099" r="1.2" fill="#5c7a64" />
<circle cx="1094.3" cy="1099.6" r="7" fill="#c5d3c8" />
<circle cx="1094.3" cy="1099.6" r="6" fill="#3c5a44" />
<circle cx="1094.3" cy="1099.6" r="3.2" fill="#2c4734" />
<circle cx="1093.8" cy="1099" r="1.2" fill="#5c7a64" />
<circle cx="1114.8" cy="1099.6" r="7" fill="#c5d3c8" />
<circle cx="1114.8" cy="1099.6" r="6" fill="#3c5a44" />
<circle cx="1114.8" cy="1099.6" r="3.2" fill="#2c4734" />
<circle cx="1114.3" cy="1099" r="1.2" fill="#5c7a64" />
<circle cx="1135.4" cy="1099.6" r="7" fill="#c5d3c8" />
<circle cx="1135.4" cy="1099.6" r="6" fill="#3c5a44" />
<circle cx="1135.4" cy="1099.6" r="3.2" fill="#2c4734" />
<circle cx="1134.9" cy="1099" r="1.2" fill="#5c7a64" />
<rect x="1095.4" y="1191.8" width="84.6" height="55.7" fill="#2c2c2d" rx="3"/>
<rect x="1095.4" y="1193.5" width="84.6" height="1.1" fill="#3d3d3f" />
<rect x="1095.4" y="1233.5" width="84.6" height="1" fill="#3d3d3f" />
<rect x="1095.4" y="1196.1" width="84.6" height="1.1" fill="#3d3d3f" />
<rect x="1095.4" y="1235.9" width="84.6" height="1" fill="#3d3d3f" />
<rect x="1095.4" y="1198.7" width="84.6" height="1.1" fill="#3d3d3f" />
<rect x="1095.4" y="1238.3" width="84.6" height="1" fill="#3d3d3f" />
<rect x="1095.4" y="1201.3" width="84.6" height="1.1" fill="#3d3d3f" />
<rect x="1095.4" y="1240.7" width="84.6" height="1" fill="#3d3d3f" />
<rect x="1095.4" y="1203.9" width="84.6" height="1.1" fill="#3d3d3f" />
<rect x="1095.4" y="1243.1" width="84.6" height="1" fill="#3d3d3f" />
<rect x="1095.4" y="1206.5" width="84.6" height="1.1" fill="#3d3d3f" />
<rect x="1095.4" y="1245.5" width="84.6" height="1" fill="#3d3d3f" />
<rect x="1097" y="1206" width="81.4" height="26.5" fill="#353536" />
<text x="1099.500" y="1228.500" font-size="22" fill="#fff" stroke="#fff" stroke-width="0.800" textLength="74.500" lengthAdjust="spacingAndGlyphs">Inverter</text>
<rect x="1281.6" y="934" width="25.6" height="10" fill="#454547" />
<rect x="1269.6" y="888" width="49.5" height="46.5" fill="#7e7e82" stroke="#1c1c1e" stroke-width="1.800"/>
<rect x="1265.6" y="884" width="56.8" height="5.2" fill="#48484b" stroke="#1c1c1e" stroke-width="1.200"/>
<rect x="1274.4" y="893.6" width="39.2" height="10.4" fill="#f7d23e" stroke="#1c1c1e" stroke-width="1.200"/>
<rect x="1285.5" y="898" width="4" height="1.7" fill="#3a3210" />
<rect x="1291.5" y="898" width="4" height="1.7" fill="#3a3210" />
<rect x="1297.5" y="898" width="4" height="1.7" fill="#3a3210" />
<rect x="1274.2" y="909" width="8.6" height="8.2" fill="#fbfbfb" stroke="#1c1c1e" stroke-width="1.300"/>
<rect x="1274.2" y="921.8" width="8.6" height="8.2" fill="#f0624a" stroke="#1c1c1e" stroke-width="1.300"/>
<rect x="1290" y="909" width="8.6" height="8.2" fill="#fbfbfb" stroke="#1c1c1e" stroke-width="1.300"/>
<rect x="1290" y="921.8" width="8.6" height="8.2" fill="#f0624a" stroke="#1c1c1e" stroke-width="1.300"/>
<rect x="1305.6" y="909" width="8.6" height="8.2" fill="#fbfbfb" stroke="#1c1c1e" stroke-width="1.300"/>
<rect x="1305.6" y="921.8" width="8.6" height="8.2" fill="#f0624a" stroke="#1c1c1e" stroke-width="1.300"/>
<rect x="1273" y="1143.4" width="9.8" height="4.6" fill="#e9e9ea" stroke="#1c1c1e" stroke-width="1.300"/>
<rect x="1271.5" y="1148" width="12.8" height="5.8" fill="#e1e1e3" stroke="#1c1c1e" stroke-width="1.300"/>
<rect x="1305.4" y="1143.4" width="9.8" height="4.6" fill="#e9e9ea" stroke="#1c1c1e" stroke-width="1.300"/>
<rect x="1303.9" y="1148" width="12.8" height="5.8" fill="#e1e1e3" stroke="#1c1c1e" stroke-width="1.300"/>
<rect x="1269" y="1160" width="51.8" height="37" fill="#d9dbdd" stroke="#1c1c1e" stroke-width="1.600"/>
<polygon points="1270,1161 1286,1161 1319.8,1196 1270,1196" fill="#c4c6c9" />
<rect x="1263.4" y="1153.8" width="62.5" height="6.4" fill="#5a5a5d" stroke="#1c1c1e" stroke-width="1.200"/>
<rect x="1263.4" y="1196.6" width="62.5" height="8.4" fill="#5a5a5d" stroke="#1c1c1e" stroke-width="1.200"/>
<rect x="1272" y="1197" width="1.3" height="3.6" fill="#1c1c1e" />
<rect x="1284" y="1197" width="1.3" height="3.6" fill="#1c1c1e" />
<rect x="1296" y="1197" width="1.3" height="3.6" fill="#1c1c1e" />
<rect x="1308" y="1197" width="1.3" height="3.6" fill="#1c1c1e" />
<rect x="1319" y="1197" width="1.3" height="3.6" fill="#1c1c1e" />
<rect x="1275.5" y="1165.8" width="6.5" height="1.7" fill="#1c1c1e" />
<rect x="1277.9" y="1163.4" width="1.7" height="6.5" fill="#1c1c1e" />
<rect x="1307.5" y="1165.8" width="6.5" height="1.7" fill="#1c1c1e" />
<path d="M1296 1170.500l-8 9 5 1-2.500 8.500 9-10.500-5.500-1z" fill="#f0523a" stroke="#1c1c1e" stroke-width="1.100" stroke-linejoin="round"/>
<!-- p_wires -->
<g fill="none" stroke-linejoin="miter">
<polyline points="822,879.4 822,809 910,809 910,1150" fill="none" stroke="#f9ed34" stroke-width="3.2" />
<line x1="886.4" y1="908" x2="910" y2="908" stroke="#f9ed34" stroke-width="3.2" />
<polyline points="698.3,1012.5 698.3,997.5 910,997.5" fill="none" stroke="#f9ed34" stroke-width="3.2" />
<line x1="771.5" y1="997.5" x2="771.5" y2="1130.5" stroke="#f9ed34" stroke-width="3.2" />
<polyline points="771.5,1104 701,1104 701,1167" fill="none" stroke="#f9ed34" stroke-width="3.2" />
<line x1="865.4" y1="1150" x2="1094.3" y2="1150" stroke="#f9ed34" stroke-width="3.2" />
<line x1="1073.9" y1="1128.7" x2="1073.9" y2="1150" stroke="#f9ed34" stroke-width="3.2" />
<line x1="1094.3" y1="1128.7" x2="1094.3" y2="1151.6" stroke="#f9ed34" stroke-width="3.2" />
</g>
<circle cx="910" cy="908" r="4.6" fill="#f9ed34" />
<circle cx="772" cy="997.5" r="4.6" fill="#f9ed34" />
<circle cx="910" cy="997.5" r="4.6" fill="#f9ed34" />
<circle cx="771.5" cy="1104" r="4.6" fill="#f9ed34" />
<circle cx="910" cy="1150" r="4.6" fill="#f9ed34" />
<circle cx="1073.9" cy="1150" r="4.6" fill="#f9ed34" />
<g fill="none">
<polyline points="1032.8,1128.7 1032.8,1250.5 205,1250.5" fill="none" stroke="#1e90d2" stroke-width="2.8" />
<polyline points="1053.6,1128.7 1053.6,1265.5 205,1265.5" fill="none" stroke="#1e90d2" stroke-width="2.8" />
<line x1="1115.7" y1="1128.7" x2="1115.7" y2="1192" stroke="#111111" stroke-width="2.8" />
<line x1="1135.4" y1="1128.7" x2="1135.4" y2="1192" stroke="#111111" stroke-width="2.8" />
<polyline points="1166.3,1128.7 1166.3,1136.6 1327,1136.6 1327,1146.3 1314,1146.3" fill="none" stroke="#111111" stroke-width="2.6" />
<polyline points="1151.3,1128.7 1151.3,1144.8 1278.3,1144.8" fill="none" stroke="#e41218" stroke-width="2.8" />
<polyline points="1085.2,458.5 1085.2,748.5 1283.5,748.5 1283.5,884" fill="none" stroke="#e41218" stroke-width="2.8" />
<line x1="1278.3" y1="935" x2="1278.3" y2="1144.5" stroke="#e41218" stroke-width="2.8" />
<line x1="1305.2" y1="680.5" x2="1305.2" y2="884" stroke="#111111" stroke-width="2.6" />
<line x1="1309.8" y1="935" x2="1309.8" y2="1143.5" stroke="#111111" stroke-width="2.6" />
<polyline points="1277.4,1205 1277.4,1212 1180,1212" fill="none" stroke="#e41218" stroke-width="2.8" />
<polyline points="1310.5,1205 1310.5,1229.4 1180,1229.4" fill="none" stroke="#111111" stroke-width="2.6" />
</g>
<!-- p_labels -->
<g opacity="0.96">
<text x="1105.3" y="234.6" font-size="33" fill="#141414" textLength="239.2" lengthAdjust="spacingAndGlyphs" >Wind generator</text>
<text x="1201.5" y="471.6" font-size="33.5" fill="#141414" textLength="176" lengthAdjust="spacingAndGlyphs" >Solar panel</text>
<text x="18.5" y="564" font-size="33.5" fill="#141414" textLength="195.5" lengthAdjust="spacingAndGlyphs" >Utility Power</text>
<text x="904.5" y="1183.4" font-size="33.5" fill="#141414" textLength="79" lengthAdjust="spacingAndGlyphs" >Load</text>
<text x="1349.5" y="1177" font-size="27.5" fill="#141414" textLength="87" lengthAdjust="spacingAndGlyphs" >Battery</text>
<text x="1333.5" y="899" font-size="27.5" fill="#141414" textLength="144" lengthAdjust="spacingAndGlyphs" >Solar&amp;Wind</text>
<text x="1346.5" y="933" font-size="27.5" fill="#141414" textLength="119.5" lengthAdjust="spacingAndGlyphs" >Controller</text>
</g>
</svg>
</body></html>
